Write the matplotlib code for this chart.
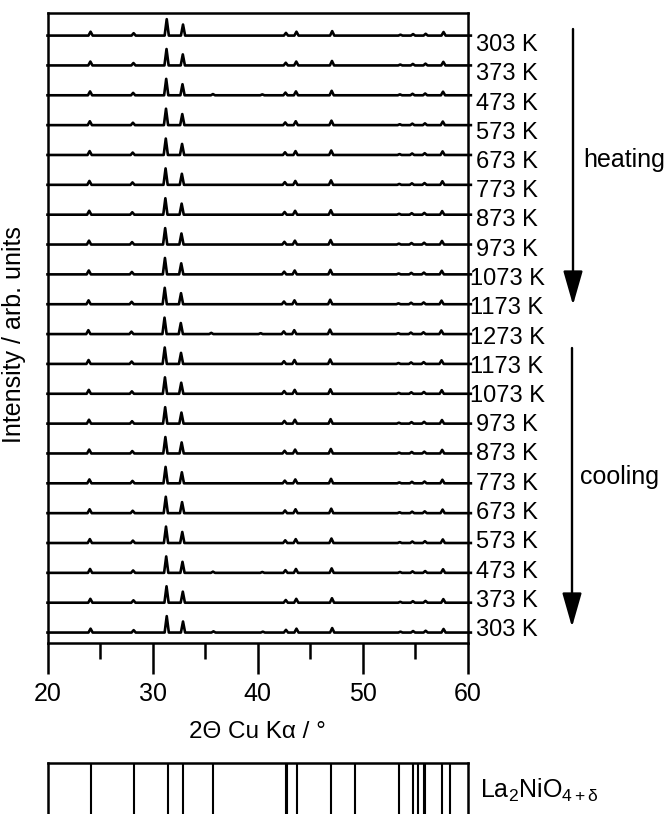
import numpy as np
import matplotlib
matplotlib.use("Agg")
import matplotlib.pyplot as plt
from matplotlib.ticker import MultipleLocator

plt.rcParams["font.family"] = ["Liberation Sans", "DejaVu Sans"]
plt.rcParams["mathtext.fontset"] = "custom"
plt.rcParams["mathtext.rm"] = "Liberation Sans"
plt.rcParams["mathtext.it"] = "Liberation Sans"

# --- temperature program (top to bottom) ---
heating = ["303 K", "373 K", "473 K", "573 K", "673 K", "773 K",
           "873 K", "973 K", "1073 K", "1173 K", "1273 K"]
cooling = ["1173 K", "1073 K", "973 K", "873 K", "773 K", "673 K",
           "573 K", "473 K", "373 K", "303 K"]
labels = heating + cooling

# --- main reflections of the measured patterns (2theta / deg, rel. height) ---
peak_pos = [24.1, 28.2, 31.35, 32.9, 42.7, 43.7, 47.1, 53.6, 54.8, 56.0, 57.7]
peak_height = [0.13, 0.08, 0.55, 0.37, 0.09, 0.13, 0.15, 0.03, 0.05, 0.06, 0.12]

# small extra reflections seen in a few scans
extra_pos = [35.8, 40.5]
extra_height = [0.04, 0.03]
extra_rows = [2, 10, 18, 20]

# thermal shift of the pattern for each scan (deg)
shift = [0.0, -0.02, -0.05, -0.07, -0.09, -0.11, -0.13, -0.15, -0.17, -0.19, -0.21,
         -0.19, -0.17, -0.15, -0.13, -0.11, -0.09, -0.07, -0.05, -0.02, 0.0]

# reference reflections La2NiO4+d
ref_pos = [24.14, 28.27, 31.5, 32.87, 35.8, 42.68, 42.84, 43.73, 47.0, 49.29,
           53.48, 54.84, 55.3, 55.8, 55.95, 57.54, 58.27]

X_MIN, X_MAX = 20.0, 60.3
HALF_WIDTH = 0.2


def pattern(positions, heights):
    # stick pattern -> polyline with narrow triangular peaks
    order = np.argsort(positions)
    xs, ys = [X_MIN], [0.0]
    for k in order:
        p, h = positions[k], heights[k]
        xs += [p - HALF_WIDTH, p, p + HALF_WIDTH]
        ys += [0.0, h, 0.0]
    xs.append(X_MAX)
    ys.append(0.0)
    return np.array(xs), np.array(ys)


W, H = 671, 814
fig = plt.figure(figsize=(W / 100, H / 100), dpi=100)

# --- stacked diffraction patterns ---
ax = fig.add_axes([47.5 / W, 1 - 643 / H, 420.2 / W, 629.5 / H])
n = len(labels)
for i, lab in enumerate(labels):
    pos = [p + shift[i] for p in peak_pos]
    hts = list(peak_height)
    if i in extra_rows:
        pos += [p + shift[i] for p in extra_pos]
        hts += extra_height
    x, y = pattern(pos, hts)
    ax.plot(x, y + (n - 1 - i), color="black", lw=1.9, clip_on=False,
            solid_joinstyle="round")

ax.set_xlim(20, 60)
ax.set_ylim(-0.35, 20.74)
ax.set_yticks([])
ax.xaxis.set_major_locator(MultipleLocator(10))
ax.xaxis.set_minor_locator(MultipleLocator(5))
ax.tick_params(axis="x", which="major", direction="out", length=22, width=1.8,
               pad=6, labelsize=18)
ax.tick_params(axis="x", which="minor", direction="out", length=11.5, width=1.8)
for sp in ax.spines.values():
    sp.set_linewidth(1.8)

ax.set_xlabel("2\u0398 Cu K\u03b1 / \u00b0", fontsize=17.5)
ax.xaxis.label.set_va("center")
ax.xaxis.set_label_coords(0.5, (643 - 732) / 629.5)
ax.set_ylabel("Intensity / arb. units", fontsize=18)
ax.yaxis.label.set_va("center")
ax.yaxis.set_label_coords((14 - 47.5) / 420.2, (643 - 335) / 629.5)

# temperature labels beside the patterns
for lab, yp in zip(labels, np.linspace(45, 630, n)):
    fig.text(507 / W, 1 - yp / H, lab, ha="center", va="center", fontsize=17)

# heating / cooling arrows
arrow = dict(arrowstyle="-|>,head_length=2.1,head_width=0.6", mutation_scale=10,
             lw=1.7, color="black", shrinkA=0, shrinkB=0)
ax.annotate("", xy=(573, H - 305), xytext=(573, H - 29),
            xycoords="figure pixels", textcoords="figure pixels", arrowprops=arrow)
ax.annotate("", xy=(572, H - 627), xytext=(572, H - 348),
            xycoords="figure pixels", textcoords="figure pixels", arrowprops=arrow)
fig.text(583 / W, 1 - 160 / H, "heating", ha="left", va="center", fontsize=18)
fig.text(580 / W, 1 - 477 / H, "cooling", ha="left", va="center", fontsize=18)

# --- reference stick pattern ---
ax_ref = fig.add_axes([47.5 / W, -0.05, 420.2 / W, (H - 763) / H + 0.05])
ax_ref.vlines(ref_pos, 0, 1, color="black", lw=1.5)
ax_ref.set_xlim(20, 60)
ax_ref.set_ylim(0, 1)
ax_ref.set_xticks([])
ax_ref.set_yticks([])
for sp in ax_ref.spines.values():
    sp.set_linewidth(1.8)
fig.text(480 / W, 1 - 790 / H, r"La$_\mathregular{2}$NiO$_\mathregular{4+\delta}$",
         ha="left", va="center", fontsize=18)

fig.savefig("out.png", dpi=100)
